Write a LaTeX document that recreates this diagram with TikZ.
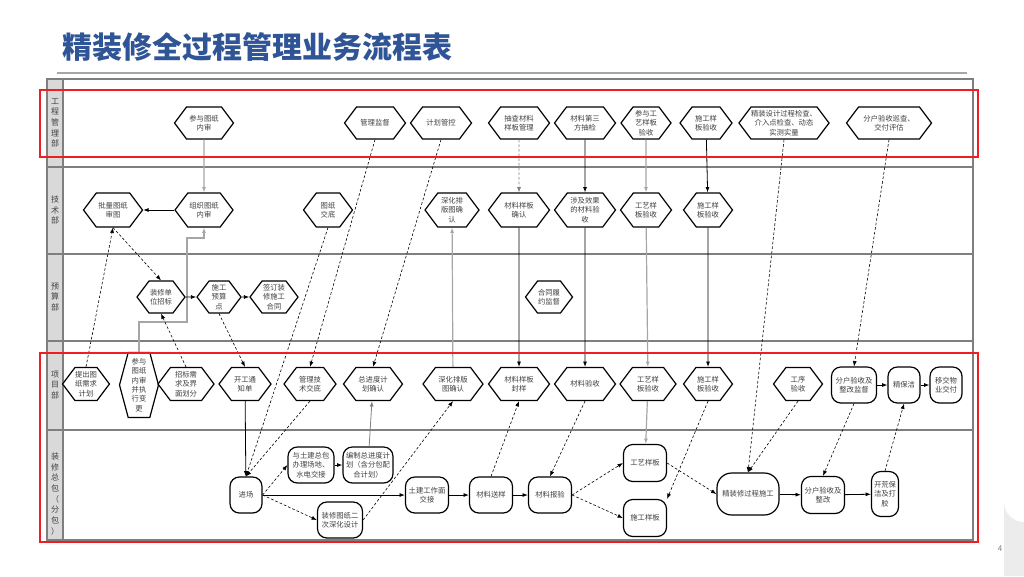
\documentclass[tikz,border=0pt]{standalone}
\usepackage{fontspec}
\usepackage{tikz}
\usetikzlibrary{arrows.meta,calc,shapes.symbols}
\setmainfont{Noto Sans CJK SC}
\newfontfamily\cjkfont{Noto Sans CJK SC}
\definecolor{TitleBlue}{HTML}{2F5597}
\definecolor{LaneGrid}{HTML}{7F7F7F}
\definecolor{LaneFill}{HTML}{D9D9D9}
\definecolor{NodeText}{HTML}{404040}
\definecolor{FlowGrey}{HTML}{A6A6A6}
\definecolor{MarkRed}{HTML}{F01E23}
\newcommand{\nodefont}{\cjkfont\fontsize{5.5}{7}\selectfont}
\newcommand{\lanefont}{\cjkfont\fontsize{6}{8}\selectfont}
\tikzset{
  wd/.style={minimum width=#1*0.75pt},
  ht/.style={minimum height=#1*0.75pt},
  hexbox/.style={signal,signal to=west and east,signal pointer angle=106,draw=black,line width=0.9pt,fill=white,align=center,font=\nodefont,text=NodeText,inner sep=0pt,minimum height=24pt},
  roundbox/.style={rectangle,rounded corners=7pt,draw=black,line width=0.9pt,fill=white,align=center,font=\nodefont,text=NodeText,inner sep=0pt,minimum height=27pt},
  lanelabel/.style={align=center,font=\lanefont,text=NodeText,inner sep=0pt},
  sline/.style={-{Latex[length=4pt,width=3pt]},line width=0.6pt,draw=black},
  dline/.style={sline,line width=0.45pt,dash pattern=on 2pt off 1.5pt},
  gline/.style={sline,draw=FlowGrey,line width=0.9pt},
  lanerule/.style={draw=LaneGrid,line width=0.8pt},
  markbox/.style={draw=MarkRed,line width=1.5pt}
}

\begin{document}
\begin{tikzpicture}[x=0.75pt,y=-0.75pt]
  \useasboundingbox (0,0) rectangle (1024,576);

  % title
  \node[anchor=west,inner sep=0pt,font=\cjkfont\bfseries\fontsize{22.5}{24}\selectfont,text=TitleBlue] (title) at (62,47) {精装修全过程管理业务流程表};
  \draw[draw=gray!70,line width=1pt] (57,73) -- (967,73);

  % lanes
  \fill[LaneFill] (47,79) rectangle (63,540);
  \draw[lanerule] (47,79) rectangle (973,540);
  \draw[lanerule] (63,79) -- (63,540);
  \foreach \yy in {167,254,341,430}
    \draw[lanerule] (47,\yy) -- (973,\yy);
  \node[lanelabel] (laneEng) at (55,123) {工\\程\\管\\理\\部};
  \node[lanelabel] (laneTech) at (55,210) {技\\术\\部};
  \node[lanelabel] (laneBudget) at (55,297) {预\\算\\部};
  \node[lanelabel] (laneProj) at (55,385) {项\\目\\部};
  \node[lanelabel] (laneFit) at (55,494) {装\\修\\总\\包\\（\\分\\包\\）};

  % 工程管理部
  \node[hexbox,wd=59] (eng1) at (204,123) {参与图纸\\内审};
  \node[hexbox,wd=61] (eng2) at (375,123) {管理监督};
  \node[hexbox,wd=61] (eng3) at (441,123) {计划管控};
  \node[hexbox,wd=61] (eng4) at (519,123) {抽查材料\\样板管理};
  \node[hexbox,wd=61] (eng5) at (585,123) {材料第三\\方抽检};
  \node[hexbox,wd=50] (eng6) at (646,123) {参与工\\艺样板\\验收};
  \node[hexbox,wd=52] (eng7) at (706,123) {施工样\\板验收};
  \node[hexbox,wd=89] (eng8) at (784,123) {精装设计过程检查、\\介入点检查、动态\\实测实量};
  \node[hexbox,wd=85] (eng9) at (889,123) {分户验收巡查、\\交付评估};

  % 技术部
  \node[hexbox,wd=59,ht=34] (tech1) at (113,210) {批量图纸\\审图};
  \node[hexbox,wd=58,ht=34] (tech2) at (204,210) {组织图纸\\内审};
  \node[hexbox,wd=49,ht=34] (tech3) at (328,210) {图纸\\交底};
  \node[hexbox,wd=54,ht=34] (tech4) at (452,210) {深化排\\版图确\\认};
  \node[hexbox,wd=61,ht=34] (tech5) at (519,210) {材料样板\\确认};
  \node[hexbox,wd=61,ht=34] (tech6) at (585,210) {涉及效果\\的材料验\\收};
  \node[hexbox,wd=51,ht=34] (tech7) at (646,210) {工艺样\\板验收};
  \node[hexbox,wd=49,ht=34] (tech8) at (708,210) {施工样\\板验收};

  % 预算部
  \node[hexbox,wd=48] (bud1) at (161,297) {装修单\\位招标};
  \node[hexbox,wd=44] (bud2) at (219,297) {施工\\预算\\点};
  \node[hexbox,wd=48] (bud3) at (274,297) {签订装\\修施工\\合同};
  \node[hexbox,wd=47] (bud4) at (549,297) {合同履\\约监督};

  % 项目部
  \node[hexbox,wd=42,ht=33] (proj1) at (86,384) {提出图\\纸需求\\计划};
  \node[hexbox,wd=39,ht=65,signal pointer angle=150] (proj2) at (139,385) {参与\\图纸\\内审\\并执\\行变\\更};
  \node[hexbox,wd=56,ht=33] (proj3) at (186,384) {招标需\\求及界\\面划分};
  \node[hexbox,wd=52,ht=33] (proj4) at (245,384) {开工通\\知单};
  \node[hexbox,wd=52,ht=33] (proj5) at (310,384) {管理技\\术交底};
  \node[hexbox,wd=59,ht=33] (proj6) at (373,384) {总进度计\\划确认};
  \node[hexbox,wd=60,ht=33] (proj7) at (453,384) {深化排版\\图确认};
  \node[hexbox,wd=61,ht=33] (proj8) at (519,384) {材料样板\\封样};
  \node[hexbox,wd=61,ht=33] (proj9) at (585,384) {材料验收};
  \node[hexbox,wd=56,ht=33] (proj10) at (648,384) {工艺样\\板验收};
  \node[hexbox,wd=49,ht=33] (proj11) at (708,384) {施工样\\板验收};
  \node[hexbox,wd=49,ht=33] (proj12) at (798,384) {工序\\验收};
  \node[roundbox,wd=45,ht=36] (proj13) at (854,385) {分户验收及\\整改监督};
  \node[roundbox,wd=32,ht=36] (proj14) at (904,385) {精保洁};
  \node[roundbox,wd=32,ht=36] (proj15) at (946,385) {移交物\\业交付};

  % 装修总包（分包）
  \node[roundbox,wd=32,ht=36] (fit1) at (246,495) {进场};
  \node[roundbox,wd=46,ht=36] (fit2) at (311,465) {与土建总包\\办理场地、\\水电交接};
  \node[roundbox,wd=50,ht=36] (fit3) at (368,465) {编制总进度计\\划（含分包配\\合计划）};
  \node[roundbox,wd=45,ht=36] (fit4) at (340,520) {装修图纸二\\次深化设计};
  \node[roundbox,wd=43,ht=36] (fit5) at (427,495) {土建工作面\\交接};
  \node[roundbox,wd=43,ht=36] (fit6) at (491,495) {材料送样};
  \node[roundbox,wd=43,ht=36] (fit7) at (550,495) {材料报验};
  \node[roundbox,wd=43,ht=37] (fit8) at (645,463) {工艺样板};
  \node[roundbox,wd=43,ht=37] (fit9) at (645,518) {施工样板};
  \node[roundbox,wd=62,ht=42,rounded corners=11pt] (fit10) at (748,494) {精装修过程施工};
  \node[roundbox,wd=43,ht=37] (fit11) at (823,495) {分户验收及\\整改};
  \node[roundbox,wd=27,ht=45] (fit12) at (885,494) {开荒保\\洁及打\\胶};

  % connectors
  \coordinate (bendA) at (187,322);
  \coordinate (bendB) at (204,238);
  \draw[gline] (eng1) -- (tech2);
  \draw[gline] (proj2.north) |- (bendA) |- (bendB) -- (tech2.south);
  \draw[sline] (tech2) -- (tech1);
  \draw[dline] (proj1.north) -- (tech1.south);
  \draw[dline] (tech1.south) -- (bud1.north);
  \draw[dline] (proj3.north) -- (bud1.south);
  \draw[sline] (bud1) -- (bud2);
  \draw[sline] (bud2) -- (bud3);
  \draw[dline] (bud2.south) -- (proj4.north);
  \draw[sline] (proj4) -- (fit1);
  \draw[dline] (eng2.south) -- (proj5.north);
  \draw[dline] (eng3.south) -- (proj6.north);
  \draw[dline] (tech3.south) -- (fit1.north);
  \draw[dline] (proj5.south) -- (fit1.north);
  \draw[sline,draw=gray] (fit3) -- (proj6);
  \draw[dline] (fit4.east) -- (proj7.south);
  \draw[gline] (proj7) -- (tech4);
  \draw[dline,draw=gray] (eng4) -- (tech5);
  \draw[sline] (tech5) -- (proj8);
  \draw[sline] (eng5) -- (tech6);
  \draw[sline] (tech6) -- (proj9);
  \draw[gline] (eng6) -- (tech7);
  \draw[gline] (tech7) -- (proj10);
  \draw[sline] (eng7) -- (tech8);
  \draw[sline] (tech8) -- (proj11);
  \draw[dline] (eng8.south) -- (fit10.north);
  \draw[dline] (eng9.south) -- (proj13.north);
  \draw[sline] (proj13) -- (proj14);
  \draw[sline] (proj14) -- (proj15);
  \draw[dline] (proj12.south) -- (fit10.north);
  \draw[dline] (proj13.south) -- (fit11.north);
  \draw[dline] (fit12.north) -- (proj14.south);
  \draw[dline] (fit1.east) -- (fit2.west);
  \draw[sline] (fit2) -- (fit3);
  \draw[sline] (fit1) -- (fit5);
  \draw[dline] (fit1.east) -- (fit4.west);
  \draw[sline] (fit5) -- (fit6);
  \draw[sline] (fit6) -- (fit7);
  \draw[dline] (fit7.east) -- (fit8.west);
  \draw[dline] (fit7.east) -- (fit9.west);
  \draw[dline] (fit8.east) -- (fit10.west);
  \draw[sline] (fit10) -- (fit11);
  \draw[sline] (fit11) -- (fit12);
  \draw[gline] (proj10) -- (fit8);
  \draw[dline] (proj11.south) -- (fit9.north east);
  \draw[dline] (proj9.south) -- (fit7.north);
  \draw[dline] (fit6.north) -- (proj8.south);

  % red marks
  \draw[markbox] (40,90) rectangle (978,157);
  \draw[markbox] (40,353) rectangle (978,542);

  % page number
  \node[font=\cjkfont\fontsize{6}{7}\selectfont,text=gray] (pageno) at (1000,549) {4};
  \fill[gray!15] (1024,522) arc[start angle=90,end angle=180,radius=20] -- (1004,576) -- (1024,576) -- cycle;
\end{tikzpicture}
\end{document}
